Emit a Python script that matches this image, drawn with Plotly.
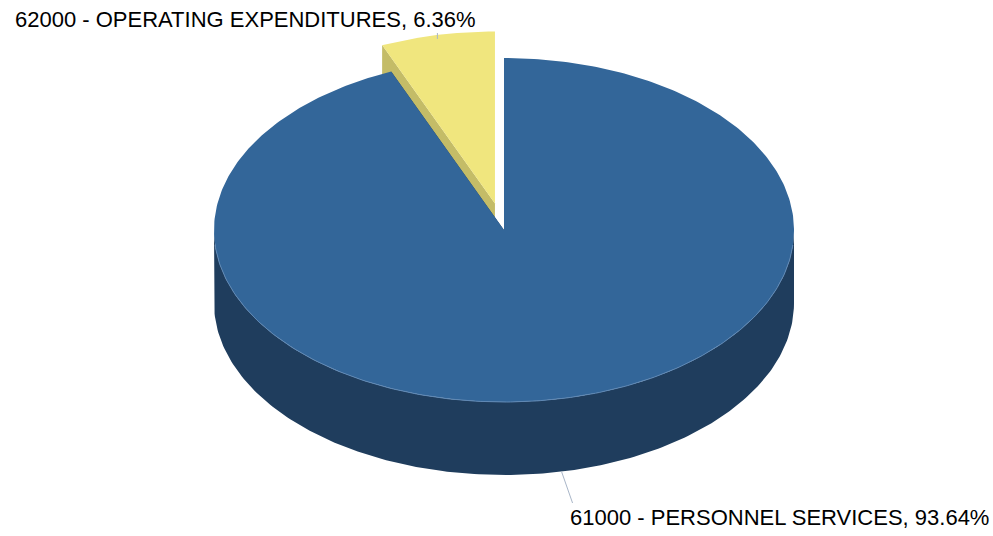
import numpy as np
import plotly.graph_objects as go

# Budget split by account group
labels = ["61000 - PERSONNEL SERVICES", "62000 - OPERATING EXPENDITURES"]
values = [93.64, 6.36]

top_colors = ["#336699", "#F0E67E"]
side_colors = ["#1F3D5D", "#C4BC67"]
explode = [0.0, 0.157]

# Projected pie geometry (pixels)
W, H = 993, 536
CX, CY = 504, 230
RX, RY = 290, 172
DEPTH = 73


def pt(theta_deg, dx=0.0, dy=0.0, down=0.0, r=1.0):
    t = np.radians(theta_deg)
    return CX + dx + r * RX * np.sin(t), CY + dy - r * RY * np.cos(t) + down


fig = go.Figure()


def poly(xs, ys, color):
    fig.add_trace(go.Scatter(x=list(xs) + [xs[0]], y=list(ys) + [ys[0]],
                             mode="lines", fill="toself", fillcolor=color,
                             line=dict(width=0, color=color),
                             hoverinfo="skip", showlegend=False))


total = sum(values)
bounds = []
start = 0.0
for v in values:
    end = start + 360.0 * v / total
    bounds.append((start, end))
    start = end

offsets = []
for (a0, a1), e in zip(bounds, explode):
    mid = (a0 + a1) / 2
    t = np.radians(mid)
    offsets.append((e * RX * np.sin(t), -e * RY * np.cos(t)))

# side faces first (radial faces and front wall), then tops
for i in range(len(values) - 1, -1, -1):
    a0, a1 = bounds[i]
    dx, dy = offsets[i]
    col = side_colors[i]
    for a in (a0, a1):
        ex, ey = pt(a, dx, dy)
        poly([CX + dx, ex, ex, CX + dx], [CY + dy, ey, ey + DEPTH, CY + dy + DEPTH], col)
    lo, hi = max(a0, 90.0), min(a1, 270.0)
    if hi > lo:
        th = np.linspace(lo, hi, 200)
        xs_t, ys_t = pt(th, dx, dy)
        xs_b, ys_b = pt(th[::-1], dx, dy, down=DEPTH)
        poly(np.concatenate([xs_t, xs_b]), np.concatenate([ys_t, ys_b]), col)

for i in range(len(values) - 1, -1, -1):
    a0, a1 = bounds[i]
    dx, dy = offsets[i]
    th = np.linspace(a0, a1, 400)
    xs, ys = pt(th, dx, dy)
    poly(np.concatenate([[CX + dx], xs]), np.concatenate([[CY + dy], ys]), top_colors[i])

# subtle highlight along the front rim of the top face
th = np.linspace(95, 265, 200)
hx, hy = pt(th)
fig.add_trace(go.Scatter(x=hx, y=hy, mode="lines", line=dict(color="#5F88B4", width=1),
                         hoverinfo="skip", showlegend=False))

# leader lines and labels
label_font = dict(family="Liberation Sans, Arial, sans-serif", size=22, color="#000000")
# personnel services: from bottom of wall to label
a0, a1 = bounds[0]
mx, my = pt((a0 + a1) / 2, down=DEPTH)
fig.add_trace(go.Scatter(x=[mx, mx + 11], y=[my, 503], mode="lines",
                         line=dict(color="#A9B6C8", width=1),
                         hoverinfo="skip", showlegend=False))
fig.add_annotation(x=568, y=517, xref="x", yref="y", xanchor="left", yanchor="middle",
                   text=f"{labels[0]}, {values[0]:.2f}%", showarrow=False, font=label_font)

# operating expenditures: short tick up to label
a0, a1 = bounds[1]
dx, dy = offsets[1]
mx, my = pt((a0 + a1) / 2, dx, dy)
fig.add_trace(go.Scatter(x=[mx, mx], y=[my + 4, 33], mode="lines",
                         line=dict(color="#A9B6C8", width=1),
                         hoverinfo="skip", showlegend=False))
fig.add_annotation(x=13, y=19, xref="x", yref="y", xanchor="left", yanchor="middle",
                   text=f"{labels[1]}, {values[1]:.2f}%", showarrow=False, font=label_font)

fig.update_xaxes(range=[0, W], visible=False, fixedrange=True)
fig.update_yaxes(range=[H, 0], visible=False, fixedrange=True)
fig.update_layout(width=W, height=H, margin=dict(l=0, r=0, t=0, b=0),
                  paper_bgcolor="white", plot_bgcolor="white", showlegend=False)

fig.write_html("out.html", config={"displayModeBar": False})
